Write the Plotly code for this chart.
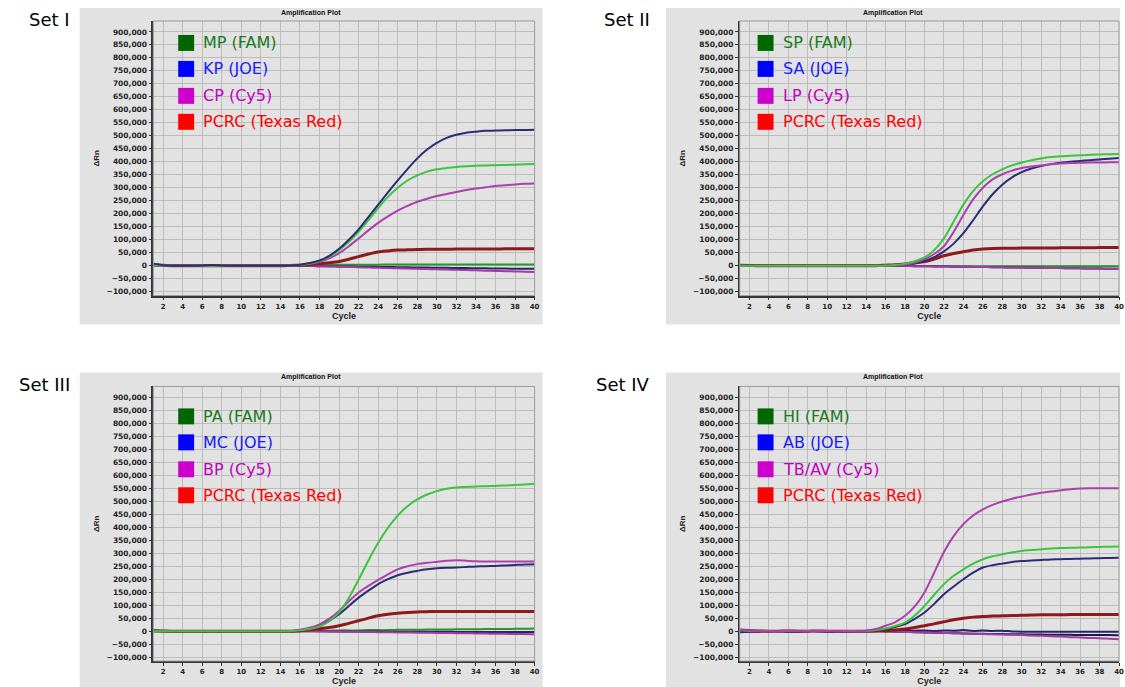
import plotly.graph_objects as go
import numpy as np

W, H = 1125, 687

cycles = list(range(1, 41))
x_ticks = list(range(2, 41, 2))
y_ticks = list(range(-100000, 900001, 50000))

set_labels = ["Set I", "Set II", "Set III", "Set IV"]
legend_names = [
    ["MP (FAM)", "KP (JOE)", "CP (Cy5)", "PCRC (Texas Red)"],
    ["SP (FAM)", "SA (JOE)", "LP (Cy5)", "PCRC (Texas Red)"],
    ["PA (FAM)", "MC (JOE)", "BP (Cy5)", "PCRC (Texas Red)"],
    ["HI (FAM)", "AB (JOE)", "TB/AV (Cy5)", "PCRC (Texas Red)"],
]

# ---- values in thousands of ΔRn, one per cycle (1..40) ----
# Set I
s1_fam = [2,1,0,0,0,0,0,0,0,0, 0,0,0,0,1,3,8,18,35,60, 92,130,175,222,265,300,328,348,362,371, 376,380,383,385,386,387,388,389,390,391]
s1_joe = [8,2,0,0,0,1,3,1,0,0, 0,0,0,0,1,4,10,20,38,65, 100,140,187,235,282,328,372,413,447,473, 492,504,512,516,519,520,521,522,522,523]
s1_cy5 = [2,1,0,0,0,0,0,0,0,0, 0,0,0,0,1,3,7,15,28,48, 75,105,136,165,190,212,230,246,258,268, 276,284,291,297,302,307,310,313,315,316]
s1_red = [5,2,0,0,0,0,0,0,0,0, 0,0,0,0,1,2,4,7,11,16, 25,35,45,53,57,60,61,62,63,63, 63,64,64,64,64,64,65,65,65,65]
s1_fam_neg = [0,0,0,0,0,0,0,0,0,0, 0,0,0,0,0,1,2,3,4,4, 4,4,4,4,5,5,5,5,5,5, 5,5,5,5,5,5,5,5,5,5]
s1_joe_neg = [3,1,0,0,0,0,0,0,0,0, 0,0,0,0,0,0,-1,-2,-2,-3, -3,-4,-4,-5,-5,-6,-6,-7,-7,-8, -8,-9,-9,-10,-10,-11,-11,-12,-12,-12]
s1_cy5_neg = [1,0,0,0,0,0,0,0,0,0, 0,0,0,0,0,0,-1,-2,-3,-4, -5,-6,-7,-8,-9,-10,-11,-12,-13,-14, -15,-16,-17,-18,-19,-20,-21,-22,-23,-24]

# Set II
s2_fam = [0,0,0,0,0,0,0,0,0,0, 0,0,0,0,0,1,3,8,17,32, 60,105,170,235,287,325,352,371,386,397, 406,413,418,421,423,425,427,428,429,430]
s2_joe = [3,1,0,0,0,0,0,0,0,0, 0,0,0,0,0,0,1,3,8,18, 33,55,85,125,175,228,275,312,340,360, 374,384,391,396,400,403,406,409,412,415]
s2_cy5 = [0,0,0,0,0,0,0,0,0,0, 0,0,0,0,0,0,1,4,12,25, 45,75,130,195,255,300,332,352,366,376, 382,386,390,393,395,396,397,397,398,398]
s2_red = [2,1,0,0,0,0,0,0,0,0, 0,0,0,0,0,2,4,7,11,16, 26,38,47,54,60,64,66,67,67,68, 68,68,68,69,69,69,69,70,70,70]
s2_fam_neg = [0,0,0,0,0,0,0,0,0,0, 0,0,0,0,0,0,0,-1,-1,-1, -1,-1,-2,-2,-2,-2,-2,-2,-2,-2, -2,-2,-2,-2,-2,-2,-2,-2,-2,-2]
s2_joe_neg = [2,0,0,0,0,0,0,0,0,0, 0,0,0,0,0,0,-1,-1,-2,-2, -3,-3,-4,-4,-5,-5,-6,-6,-7,-7, -8,-8,-9,-9,-10,-10,-11,-11,-12,-12]
s2_cy5_neg = [0,0,0,0,0,0,0,0,0,0, 0,0,0,0,0,0,-1,-1,-2,-2, -3,-3,-4,-4,-5,-5,-6,-6,-7,-7, -8,-8,-9,-9,-10,-10,-11,-11,-12,-13]

# Set III
s3_fam = [0,0,0,0,0,0,0,0,0,0, 0,0,0,0,0,3,8,18,38,72, 128,198,272,340,398,445,481,507,526,539, 548,553,555,557,558,559,561,563,565,567]
s3_joe = [3,1,0,0,0,0,0,0,0,0, 0,0,0,0,0,4,10,22,40,65, 97,129,156,181,200,215,225,232,238,242, 244,245,247,249,250,251,253,255,257,258]
s3_cy5 = [2,1,0,0,0,0,0,0,0,0, 0,0,0,0,0,5,13,26,48,78, 115,149,174,197,219,238,250,258,263,267, 271,273,271,269,268,268,268,268,268,268]
s3_red = [2,1,0,0,0,0,0,0,0,0, 0,0,0,0,0,2,5,9,14,21, 30,40,50,59,65,69,72,74,75,76, 76,76,76,76,76,76,76,76,76,76]
s3_fam_neg = [0,0,0,0,0,0,0,0,0,0, 0,0,0,0,0,1,1,2,2,3, 3,3,4,4,4,5,5,5,6,6, 6,7,7,7,8,8,8,9,9,10]
s3_joe_neg = [2,0,0,0,0,0,0,0,0,0, 0,0,0,0,0,0,0,0,-1,-1, -1,-1,-1,-1,-2,-2,-2,-2,-2,-2, -2,-3,-3,-3,-3,-3,-3,-3,-3,-3]
s3_cy5_neg = [0,0,0,0,0,0,0,0,0,0, 0,0,0,0,0,0,0,-1,-1,-2, -2,-3,-3,-4,-4,-5,-5,-6,-6,-7, -7,-8,-8,-9,-9,-10,-10,-11,-11,-12]

# Set IV
s4_fam = [3,1,2,1,0,1,2,1,0,1, 0,1,0,0,4,10,20,33,60,97, 140,181,213,238,260,277,288,296,303,309, 312,315,318,320,321,322,323,324,325,326]
s4_joe = [-3,-1,0,1,0,-1,0,1,0,0, -1,0,0,0,3,8,16,27,47,72, 105,142,172,200,225,245,254,260,266,270, 272,274,276,277,278,279,280,281,282,283]
s4_cy5 = [5,2,1,0,1,2,1,0,1,0, 1,0,0,2,8,21,35,59,95,149, 225,305,366,412,445,469,486,499,510,518, 526,533,538,542,546,549,550,550,550,550]
s4_red = [4,2,1,0,0,1,0,0,1,0, 0,0,0,0,1,2,4,8,14,21, 28,36,44,50,54,56,58,59,60,61, 62,63,63,63,64,64,64,64,64,64]
s4_fam_neg = [2,0,-1,0,1,0,-1,0,1,0, 0,1,0,0,0,-1,-2,-3,-4,-5, -6,-7,-8,-9,-10,-10,-11,-11,-12,-12, -13,-13,-14,-14,-14,-15,-15,-15,-15,-16]
s4_joe_neg = [-4,-2,0,1,0,-1,0,1,0,-1, 0,0,0,0,1,3,2,4,2,3, 1,3,2,4,1,3,1,2,-1,-2, -2,-2,-2,-2,-2,-2,-2,-2,-2,-2]
s4_cy5_neg = [2,1,0,0,0,-1,0,0,0,0, 0,0,0,0,0,-1,-2,-3,-4,-5, -6,-7,-8,-9,-10,-11,-12,-13,-14,-15, -17,-18,-20,-21,-23,-24,-26,-27,-29,-31]

sets = [
    [s1_fam_neg, s1_joe_neg, s1_cy5_neg, s1_red, s1_cy5, s1_fam, s1_joe],
    [s2_fam_neg, s2_joe_neg, s2_cy5_neg, s2_red, s2_joe, s2_cy5, s2_fam],
    [s3_fam_neg, s3_joe_neg, s3_cy5_neg, s3_red, s3_joe, s3_cy5, s3_fam],
    [s4_joe_neg, s4_fam_neg, s4_cy5_neg, s4_red, s4_joe, s4_fam, s4_cy5],
]
roles = [
    ["gflat", "nflat", "mflat", "red", "mag", "green", "navy"],
    ["gflat", "nflat", "mflat", "red", "navy", "mag", "green"],
    ["gflat", "nflat", "mflat", "red", "navy", "mag", "green"],
    ["nflat", "nflat2", "mflat", "red", "navy", "green", "mag"],
]
line_colors = {
    "green": "#3cc43c", "navy": "#2c2c76", "mag": "#ad3fad", "red": "#8c1a1a",
    "gflat": "#249a24", "nflat": "#24246a", "nflat2": "#1c1c40", "mflat": "#a33aa3",
}
line_widths = {"green": 2, "navy": 2, "mag": 2, "red": 3,
               "gflat": 2, "nflat": 2, "nflat2": 2, "mflat": 2}

# ---- layout geometry (pixels) ----
panels = [(80, 8, 545, 325), (669, 8, 1125, 325), (80, 373, 545, 688), (669, 373, 1125, 688)]
plot_boxes = [(154, 21, 537, 296), (743, 21, 1124, 296), (154, 387, 537, 662), (743, 387, 1124, 662)]
legend_sq_x = [179, 761, 179, 761]
legend_row_y = [[43, 69, 96, 122], [43, 69, 96, 122], [417, 443, 470, 496], [417, 443, 470, 496]]
label_pos = [(72, 20), (655, 20), (72, 385), (655, 385)]
sq_colors = ["#006600", "#0000ff", "#cc00cc", "#ff0000"]
txt_colors = ["#1a7a1a", "#1a1aff", "#c000c0", "#ff0000"]

def px(x):
    return x / W

def py(y):
    return 1 - y / H

fig = go.Figure()
shapes = []
annotations = []
layout = {}

for i in range(4):
    n = i + 1
    xa = "x" if n == 1 else f"x{n}"
    ya = "y" if n == 1 else f"y{n}"
    for vals, role in zip(sets[i], roles[i]):
        fig.add_trace(go.Scatter(
            x=cycles, y=(np.array(vals) * 1000).tolist(), mode="lines",
            line=dict(color=line_colors[role], width=line_widths[role], shape="spline", smoothing=0.8),
            xaxis=xa, yaxis=ya, showlegend=False, hoverinfo="skip"))
    x0, y0, x1, y1 = plot_boxes[i]
    layout[f"xaxis{'' if n == 1 else n}"] = dict(
        domain=[px(x0), px(x1)], anchor=ya, range=[1, 40],
        tickvals=x_ticks, ticks="outside", ticklen=3, tickcolor="#333",
        showline=True, linecolor="#333", linewidth=1.5,
        showgrid=True, gridcolor="#bcbcbc", gridwidth=1, zeroline=False,
        tickfont=dict(family="DejaVu Sans", size=7, color="#222", weight="bold"),
        title=dict(text="Cycle", font=dict(family="Arial", size=9, color="#222", weight="bold"), standoff=2),
        fixedrange=True)
    layout[f"yaxis{'' if n == 1 else n}"] = dict(
        domain=[py(y1), py(y0)], anchor=xa, range=[-115000, 942000],
        tickvals=y_ticks, tickformat=",d", ticks="outside", ticklen=3, tickcolor="#333",
        showline=True, linecolor="#333", linewidth=1.5,
        showgrid=True, gridcolor="#bcbcbc", gridwidth=1, zeroline=False,
        tickfont=dict(family="DejaVu Sans", size=7.5, color="#222", weight="bold"),
        title=dict(text="ΔRn", font=dict(family="Arial", size=8, color="#222", weight="bold"), standoff=6),
        fixedrange=True)
    # gray panel
    p0, q0, p1, q1 = panels[i]
    shapes.append(dict(type="rect", xref="paper", yref="paper", layer="below",
                       x0=px(p0), x1=px(p1), y0=py(q1), y1=py(q0),
                       fillcolor="#e2e2e2", line=dict(width=0)))
    # top/right frame
    shapes.append(dict(type="rect", xref=f"{xa} domain", yref=f"{ya} domain",
                       x0=0, x1=1, y0=0, y1=1, line=dict(color="#9a9a9a", width=1)))
    # title
    annotations.append(dict(text="Amplification Plot", x=px((p0 + p1) / 2), y=py(q0 + 5),
                            xref="paper", yref="paper", showarrow=False, xanchor="center", yanchor="middle",
                            font=dict(family="Arial", size=7, color="#111", weight="bold")))
    # set label
    lx, ly = label_pos[i]
    annotations.append(dict(text=set_labels[i], x=px(lx), y=py(ly), xref="paper", yref="paper",
                            showarrow=False, xanchor="right", yanchor="middle",
                            font=dict(family="DejaVu Sans", size=18, color="#000")))
    # legend
    sx = legend_sq_x[i]
    for k in range(4):
        cy = legend_row_y[i][k]
        shapes.append(dict(type="rect", xref="paper", yref="paper",
                           x0=px(sx), x1=px(sx + 16), y0=py(cy + 8), y1=py(cy - 8),
                           fillcolor=sq_colors[k], line=dict(width=0)))
        annotations.append(dict(text=legend_names[i][k], x=px(sx + 23), y=py(cy), xref="paper", yref="paper",
                                showarrow=False, xanchor="left", yanchor="middle",
                                font=dict(family="DejaVu Sans", size=16, color=txt_colors[k])))

fig.update_layout(width=W, height=H, autosize=False, margin=dict(l=0, r=0, t=0, b=0),
                  paper_bgcolor="white", plot_bgcolor="#e8e8e8",
                  shapes=shapes, annotations=annotations, **layout)

fig.write_html("out.html")
